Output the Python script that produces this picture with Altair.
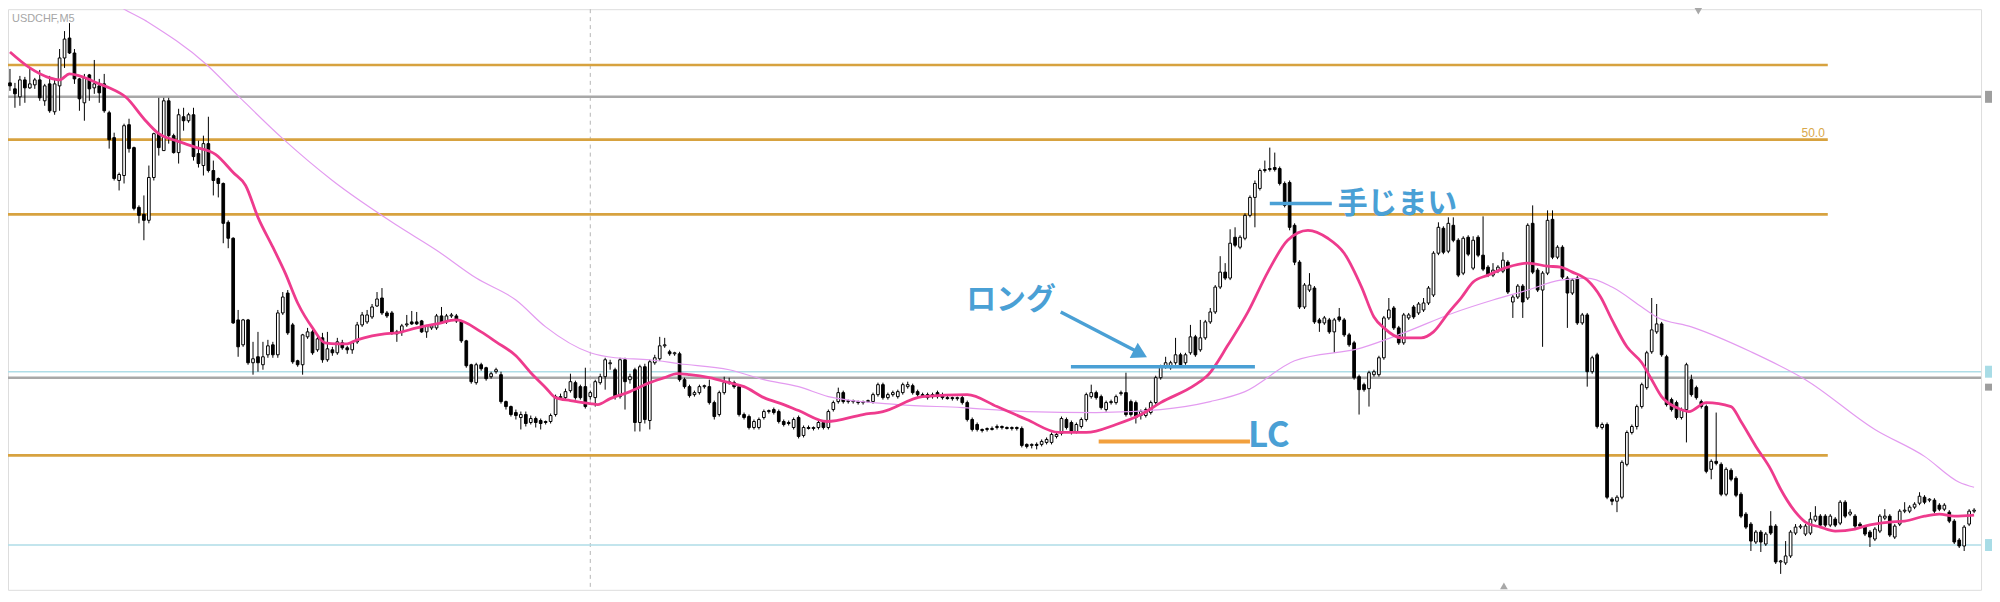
import altair as alt
import pandas as pd
import numpy as np

# price = BASE + pts * 0.00001
BASE = 0.91800

open_pts = [
538,532,524,541,533,536,541,520,537,509, 535,563,583,568,542,518,546,533,535,537,
508,483,440,445,496,473,413,406,400,443, 487,470,520,485,468,504,500,506,467,455,
477,450,442,437,398,382,300,275,300,257, 263,255,265,275,265,307,327,295,259,255,
283,288,270,282,260,270,267,277,272,270, 278,295,298,303,314,322,307,307,288,288,
295,298,298,299,288,292,292,304,298,304, 304,299,279,255,237,255,252,243,248,245,
218,213,207,202,205,197,201,199,198,198, 205,222,222,229,237,233,233,223,222,237,
243,256,250,223,260,240,250,197,253,199, 257,261,274,268,266,266,240,233,225,227,
233,233,217,205,227,237,237,233,205,203, 192,192,202,208,210,208,198,197,192,202,
184,192,191,192,197,192,210,218,227,218, 219,218,217,218,218,225,235,222,225,223,
227,233,234,228,225,225,223,227,225,222, 222,221,222,217,200,195,190,190,190,192,
193,192,191,192,191,175,174,175,175,177, 177,183,186,200,197,188,193,200,223,227,
223,210,217,217,226,227,218,217,204,204, 207,217,242,253,252,257,265,257,267,283,
270,282,298,308,333,348,342,383,373,382, 405,423,432,450,451,453,452,437,438,395,
358,313,330,332,300,297,300,288,303,300, 285,277,243,235,231,245,245,262,302,312,
292,277,302,313,307,310,317,325,367,392, 369,395,380,347,383,352,383,365,353,345,
349,349,358,318,323,334,322,397,350,330, 347,401,363,373,342,327,342,297,305,248,
265,192,195,120,118,122,155,187,193,213, 232,268,288,296,263,220,217,202,210,240,
232,218,213,150,158,155,125,149,141,125, 105,95,77,87,75,93,93,57,56,63,
86,92,85,86,99,103,103,94,100,96, 117,105,103,95,92,87,80,88,101,103,
82,95,108,108,112,116,122,119,119,114, 110,107,98,79,73,95,108]

high_pts = [
552,538,545,544,553,543,551,537,545,541, 572,590,598,572,543,547,547,561,542,547,
510,488,448,497,502,474,415,425,455,488, 523,523,523,487,512,513,508,513,480,485,
504,460,443,438,400,383,310,301,301,278, 288,278,280,278,310,328,330,297,260,286,
292,290,284,287,288,273,282,280,274,279, 298,308,310,316,328,332,309,309,290,296,
305,309,308,300,295,296,306,313,306,307, 306,300,280,256,257,257,253,248,252,248,
219,214,210,208,208,204,203,201,199,206, 225,226,231,246,239,235,252,229,240,246,
262,260,252,262,262,246,252,255,256,260, 265,283,282,270,268,268,242,235,229,235,
235,240,219,229,243,242,239,235,207,205, 200,202,210,210,212,210,200,199,202,204,
194,194,193,199,199,210,219,232,229,220, 220,219,219,220,227,237,237,227,229,230,
237,238,236,230,227,227,227,229,227,224, 223,223,224,219,202,197,191,192,193,195,
194,193,193,193,193,176,176,177,180,182, 187,187,203,202,199,197,202,227,235,229,
225,219,220,225,229,247,220,219,210,212, 219,244,255,263,259,282,267,267,295,285,
300,300,312,335,364,357,391,393,385,407, 425,440,452,460,473,468,454,439,440,397,
360,337,347,334,302,304,302,302,312,302, 287,279,245,237,249,250,264,304,322,314,
294,307,307,315,318,322,334,369,398,394, 403,403,382,384,385,384,385,404,355,357,
355,368,360,325,336,336,397,415,352,349, 410,410,375,375,344,342,344,307,307,264,
267,197,197,122,124,159,189,195,215,237, 269,322,316,298,265,222,219,212,257,245,
234,220,215,160,207,157,152,151,143,127, 107,97,89,89,87,108,95,59,78,89,
95,95,95,107,113,105,105,105,102,119, 119,110,105,97,94,89,92,105,110,105,
95,110,117,114,117,127,124,121,121,116, 116,109,100,81,94,110,111]

low_pts = [
530,513,515,518,532,532,520,515,508,506, 510,553,567,537,510,500,520,527,518,508,
472,440,430,437,468,410,397,380,397,440, 465,470,477,467,457,490,498,460,453,445,
448,425,423,377,372,296,263,273,255,245, 248,250,262,262,262,305,285,256,253,245,
281,265,268,257,258,264,265,270,266,266, 276,293,296,301,313,305,302,285,278,284,
293,295,295,287,282,290,290,296,296,302, 297,277,252,236,235,249,239,241,246,216,
210,203,200,190,193,195,192,190,195,196, 203,220,220,227,220,220,211,220,213,235,
230,250,220,221,210,236,188,188,196,190, 255,259,272,264,264,238,231,222,223,225,
231,215,200,203,225,235,231,203,200,190, 190,190,200,206,205,196,193,194,190,181,
182,190,189,190,190,190,208,216,216,216, 216,215,215,217,216,223,220,220,223,221,
225,231,225,223,223,220,221,221,220,220, 219,219,215,198,188,188,187,188,189,190,
190,190,189,189,172,171,171,170,173,175, 175,181,184,190,185,186,191,198,221,220,
210,208,215,215,224,203,203,196,200,202, 205,215,240,251,250,255,253,255,265,263,
268,280,296,306,331,340,340,373,371,380, 403,393,430,448,449,449,435,413,390,355,
311,311,328,296,288,295,286,267,298,283, 273,240,205,228,213,243,243,260,300,290,
275,275,300,301,305,308,315,323,365,366, 367,378,343,345,364,350,363,349,343,343,
347,347,326,302,321,302,320,346,328,273, 345,361,361,341,292,325,295,295,233,246,
191,190,120,114,107,120,153,185,190,211, 230,266,286,263,213,208,200,200,177,223,
220,211,146,140,154,123,123,138,122,101, 90,68,75,67,73,84,55,45,54,61,
84,90,83,84,97,92,92,92,92,94, 101,103,91,91,83,72,78,86,99,82,
80,93,106,106,110,114,115,117,106,108, 108,96,75,71,68,93,106]

close_pts = [
535,527,541,533,537,541,523,535,510,537, 563,582,568,542,522,543,532,537,528,510,
481,442,446,495,472,412,405,400,443,487, 473,520,485,468,506,500,506,464,457,477,
450,440,437,397,382,297,273,300,257,261, 257,263,274,265,307,323,287,258,255,285,
288,267,281,260,271,267,278,272,270,277, 295,305,305,313,321,307,304,287,286,294,
296,296,296,288,294,294,304,297,304,305, 299,279,254,238,255,251,241,246,250,218,
213,205,204,205,196,201,197,196,197,204, 223,223,228,238,222,222,213,227,238,243,
260,257,223,260,238,243,197,253,200,258, 262,274,275,266,267,240,233,224,227,233,
234,217,203,227,237,238,233,205,202,192, 198,200,208,209,207,198,195,196,200,183,
192,191,192,197,192,208,217,227,218,219, 218,217,218,219,225,235,222,225,227,228,
235,235,227,225,224,222,225,223,222,221, 221,222,217,200,190,190,189,191,191,193,
192,191,192,191,174,173,175,174,178,180, 185,185,201,192,187,195,200,225,227,222,
212,217,218,223,227,205,205,202,208,210, 217,242,253,257,257,265,255,265,283,265,
282,298,308,333,348,342,377,375,383,405, 423,437,450,451,452,451,437,415,393,358,
313,335,335,298,297,302,288,300,300,285, 275,242,230,230,247,248,262,302,310,292,
277,305,305,303,316,317,332,367,393,368, 397,380,345,382,366,380,365,351,345,350,
353,360,328,323,334,318,395,348,330,347, 400,363,373,343,327,340,297,305,248,262,
193,195,122,118,122,157,187,193,213,235, 267,290,296,265,215,210,202,210,255,225,
222,213,148,158,156,125,150,140,124,103, 92,78,87,77,85,86,57,58,63,87,
92,93,93,100,103,94,94,103,94,117, 103,107,93,93,85,82,90,103,103,84,
93,108,109,112,115,123,117,120,108,110, 114,98,77,73,92,108,109]

# moving averages (bar index, pts)
ma_fast_bar = [0,4,8,10,12,14,18,20,23.5,27,30,33.5,37,41.5,45,47.5,50,53,55.5,58,61,63.5,66,68,70,73,75.5,78,82,86,90,95,98,102,105,108,110,113,117,118.5,121,125,129,132,134.5,137,141,145,148,152,156,159,164.7,172,176,184,193,199,205,211.5,217,223,228,232,239,241.6,245.6,249.6,253.6,257.6,261.7,265.7,269,272.5,275,277,280.5,284.5,287,290,292.7,295,298,302,306,310,312.6,315,318,320.7,323,326,329,331,333,336,338.5,342,347,349,352,355,357,360,362,365,368,372,374,379,382,386,389,392,396]
ma_fast_pts = [569,553,543,541,547,545,537,533,523,502,487,480,474,466,448,435,403,373,347,317,292,277,276,276,280,284,286,287,292,296,300,288,278,264,247,232,222,219,216,215,221,228,237,242,246,245,242,237,233,222,215,209,198,205,208,223,225,213,200,187,187,195,205,217,235,245,275,308,348,380,390,382,367,333,303,292,282,282,288,307,323,338,345,353,357,354,353,348,340,323,300,273,257,240,223,212,208,217,213,198,173,150,130,107,97,92,88,90,93,97,98,103,105,103,104]
ma_slow_bar = [18,21,27.5,39.5,46,55,65,78,86,94,102,108,117,122,129,135,145,152,159,165,179,192,205,219,232,242,249,259,272.5,281,291,299,306,312.6,318,323,329,332,339,351,362,376,386,393,396]
ma_slow_pts = [634,619,600,557,525,482,440,395,370,342,320,293,267,262,260,256,250,240,233,223,215,212,208,207,210,218,228,259,272,287,307,320,330,340,342,333,313,303,293,268,240,190,163,137,132]

fib_pts = [556, 481, 406, 164]
gray_pts = [524, 242]
cyan_pts = [248, 74]

tick_bars = list(range(0, 385, 16))
tick_labels = ["22 Dec 2021", "22 Dec 15:35", "22 Dec 16:55", "22 Dec 18:15", "22 Dec 19:35",
               "22 Dec 20:55", "22 Dec 22:15", "22 Dec 23:35", "23 Dec 00:55", "23 Dec 02:15",
               "23 Dec 03:35", "23 Dec 04:55", "23 Dec 06:15", "23 Dec 07:35", "23 Dec 08:55",
               "23 Dec 10:15", "23 Dec 11:35", "23 Dec 12:55", "23 Dec 14:15", "23 Dec 15:35",
               "23 Dec 16:55", "23 Dec 18:15", "23 Dec 19:35", "23 Dec 20:55", "23 Dec 22:15"]
price_tick_pts = [576.6, 537.4, 498.2, 459.0, 419.8, 380.6, 341.4, 302.2, 263.0, 223.8, 184.6, 145.4, 106.2, 67.0]

def px(p):
    return BASE + np.asarray(p, dtype=float) * 1e-5

n = min(len(open_pts), len(high_pts), len(low_pts), len(close_pts))
bars = np.arange(n)
o = px(open_pts[:n]); h = px(high_pts[:n]); l = px(low_pts[:n]); c = px(close_pts[:n])
candles = pd.DataFrame({
    "bar": bars, "open": o, "high": h, "low": l, "close": c,
    "bull": c >= o,
    "lo": np.minimum(o, c), "hi": np.maximum(o, c),
    "x1": bars - 0.27, "x2": bars + 0.27,
})

W, H = 1981, 583
XMIN, XMAX = -0.4, 397.4
xs = alt.Scale(domain=[XMIN, XMAX], nice=False, zero=False)
ys = alt.Scale(domain=[float(px(29)), float(px(612))], nice=False, zero=False)

label_expr = "[" + ",".join("'%s'" % t for t in tick_labels) + "][round(datum.value/16)]"
x_axis = alt.Axis(values=tick_bars, labelExpr=label_expr, labelAlign="left", labelBaseline="top",
                  labelPadding=4, tickSize=4, tickColor="#9a9a9a", labelColor="#9a9a9a",
                  labelFontSize=11, labelFont="Liberation Sans", domain=False, grid=False,
                  title=None, labelOverlap=False, labelFlush=False)
y_axis = alt.Axis(orient="right", values=[float(v) for v in px(price_tick_pts)], format=".5f",
                  tickSize=4, tickColor="#9a9a9a", labelColor="#9a9a9a", labelFontSize=11,
                  labelFont="Liberation Sans", labelPadding=2, domain=False, grid=False, title=None)

BLUE = "#4aa0d5"

# period separator
sep = alt.Chart(pd.DataFrame({"bar": [117]})).mark_rule(
    color="#b4b4b4", strokeDash=[4, 4], strokeWidth=1).encode(
    x=alt.X("bar:Q", scale=xs, axis=None))

def hlines(pts, x_end, color, width):
    df = pd.DataFrame({"p": px(pts), "a": XMIN, "b": x_end})
    return alt.Chart(df).mark_rule(color=color, strokeWidth=width).encode(
        x=alt.X("a:Q", scale=xs, axis=None), x2="b:Q",
        y=alt.Y("p:Q", scale=ys, axis=None))

fib = hlines(fib_pts, 366.5, "#d7a23f", 2.6)
gray = hlines(gray_pts, XMAX, "#a8a8a8", 2.6)
cyan = hlines(cyan_pts, XMAX, "#afdde7", 1.6)

fib_label = alt.Chart(pd.DataFrame({"bar": [365.9], "p": px([484]), "t": ["50.0"]})).mark_text(
    align="right", baseline="alphabetic", fontSize=12, color="#d9a84a", font="Liberation Sans").encode(
    x=alt.X("bar:Q", scale=xs, axis=None), y=alt.Y("p:Q", scale=ys, axis=None), text="t:N")

wicks = alt.Chart(candles).mark_rule(color="#000000", strokeWidth=1).encode(
    x=alt.X("bar:Q", scale=xs, axis=x_axis),
    y=alt.Y("low:Q", scale=ys, axis=y_axis), y2="high:Q")

bodies = alt.Chart(candles).mark_rect(stroke="#000000", strokeWidth=1).encode(
    x=alt.X("x1:Q", scale=xs, axis=None), x2="x2:Q",
    y=alt.Y("lo:Q", scale=ys, axis=None), y2="hi:Q",
    fill=alt.condition("datum.bull", alt.value("#ffffff"), alt.value("#000000")))

slow = alt.Chart(pd.DataFrame({"bar": ma_slow_bar, "p": px(ma_slow_pts)})).mark_line(
    color="#e39bf0", strokeWidth=1.2, clip=True, interpolate="monotone").encode(
    x=alt.X("bar:Q", scale=xs, axis=None), y=alt.Y("p:Q", scale=ys, axis=None))

fast = alt.Chart(pd.DataFrame({"bar": ma_fast_bar, "p": px(ma_fast_pts)})).mark_line(
    color="#ee3b8d", strokeWidth=2.8, clip=True, interpolate="monotone").encode(
    x=alt.X("bar:Q", scale=xs, axis=None), y=alt.Y("p:Q", scale=ys, axis=None))

# annotation lines
ann_lines = pd.DataFrame({
    "a": [213.9, 254.0, 211.85], "b": [251.0, 266.5, 226.9],
    "p1": px([253, 417, 308]), "p2": px([253, 417, 269]),
})
blue_lines = alt.Chart(ann_lines).mark_rule(color=BLUE, strokeWidth=3.5).encode(
    x=alt.X("a:Q", scale=xs, axis=None), x2="b:Q",
    y=alt.Y("p1:Q", scale=ys, axis=None), y2="p2:Q")
lc_line = alt.Chart(pd.DataFrame({"a": [219.5], "b": [250.0], "p": px([178])})).mark_rule(
    color="#f2a03d", strokeWidth=4).encode(
    x=alt.X("a:Q", scale=xs, axis=None), x2="b:Q", y=alt.Y("p:Q", scale=ys, axis=None))
arrow_head = alt.Chart(pd.DataFrame({"bar": [227.9], "p": px([266])})).mark_point(
    shape="triangle-right", filled=True, size=300, angle=27.6, color=BLUE, opacity=1).encode(
    x=alt.X("bar:Q", scale=xs, axis=None), y=alt.Y("p:Q", scale=ys, axis=None))

ann_text = pd.DataFrame({
    "bar": [192.8, 267.7, 249.6], "p": px([320, 416, 183]),
    "t": ["ロング", "手じまい", "LC"], "s": [30, 30, 35],
})
texts = alt.Chart(ann_text).mark_text(
    align="left", baseline="middle", fontWeight="bold", font="Noto Sans CJK JP", color=BLUE).encode(
    x=alt.X("bar:Q", scale=xs, axis=None), y=alt.Y("p:Q", scale=ys, axis=None),
    text="t:N", size=alt.Size("s:Q", scale=None))

# price tags at right edge
tags = pd.DataFrame({"p1": px([530, 254, 236, 80]), "p2": px([518, 242, 229, 68]),
                     "col": ["#9e9e9e", "#a8dce6", "#9e9e9e", "#a8dce6"]})
tag_marks = alt.Chart(tags).mark_rect().encode(
    x=alt.value(W + 4), x2=alt.value(W + 12),
    y=alt.Y("p1:Q", scale=ys, axis=None), y2="p2:Q",
    fill=alt.Fill("col:N", scale=None))

tri = alt.Chart(pd.DataFrame({"bar": [340.4, 301.2], "p": px([610, 33]),
                              "s": ["triangle-down", "triangle-up"]})).mark_point(
    filled=True, size=60, color="#a8a8a8", opacity=1).encode(
    x=alt.X("bar:Q", scale=xs, axis=None), y=alt.Y("p:Q", scale=ys, axis=None),
    shape=alt.Shape("s:N", scale=None))

symbol = alt.Chart(pd.DataFrame({"t": ["USDCHF,M5"]})).mark_text(
    align="left", baseline="top", fontSize=11, color="#a6a6a6", font="Liberation Sans").encode(
    x=alt.value(4), y=alt.value(4), text="t:N")

chart = alt.layer(
    sep, fib, gray, cyan, fib_label, wicks, bodies, slow, fast,
    blue_lines, lc_line, arrow_head, texts, tag_marks, tri, symbol
).properties(
    width=W, height=H,
    autosize=alt.AutoSizeParams(type="none"),
    padding={"left": 0, "top": 0, "right": 11, "bottom": 3},
).configure_view(stroke="#b0b0b0", strokeWidth=1).configure(background="#ffffff")

chart.save("out.html", embed_options={"renderer": "svg", "actions": False})
